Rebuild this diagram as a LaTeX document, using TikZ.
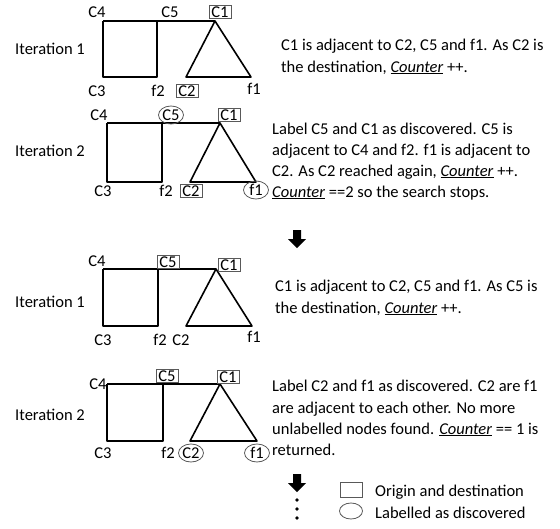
\documentclass[tikz,border=0pt]{standalone}
\usepackage{fontspec}
\setmainfont{Carlito}
\usetikzlibrary{shapes.geometric}
\begin{document}
\begin{tikzpicture}[x=1pt,y=-1pt, font=\fontsize{16.5}{21.5}\selectfont,
 edge/.style={line width=1.6pt, line join=round},
 lab/.style={inner sep=1pt},
 boxlab/.style={draw=black!65, line width=0.8pt, inner xsep=2.5pt, inner ysep=1pt},
 ovallab/.style={ellipse, draw=black!65, line width=0.8pt, inner sep=0pt, minimum width=25pt, minimum height=18pt},
 txt/.style={anchor=base west, inner sep=0},
 dotn/.style={circle, fill=black, inner sep=0, minimum size=3.8pt}]
\newcommand\Ctr{\underline{\textit{Counter}}}
\path[use as bounding box] (0,0) rectangle (560,528);

% ---------- Panel 1 ----------
\coordinate (a4) at (103,21); \coordinate (a5) at (157,21);
\coordinate (a3) at (103,77); \coordinate (af2) at (157,77);
\coordinate (a1) at (215,21); \coordinate (a2) at (186,77); \coordinate (af1) at (251,77);
\draw[edge] (a4) -- (a5) -- (a1) (a4) -- (a3) -- (af2) -- (a5);
\draw[edge] (a1) -- (a2) -- (af1) -- cycle;
\node[lab] (la4) at (97,12) {C4};
\node[lab] (la5) at (170,12) {C5};
\node[boxlab] (la1) at (220,12) {C1};
\node[lab] (la3) at (97,91) {C3};
\node[lab] (laf2) at (158,91) {f2};
\node[boxlab] (la2) at (187,91) {C2};
\node[lab] (laf1) at (254,89) {f1};
\node[lab] (it1) at (50,49) {Iteration 1};
\node[txt] (t1a) at (281,50) {C1 is adjacent to C2, C5 and f1. As C2 is};
\node[txt] (t1b) at (281,72) {the destination, \Ctr{} ++.};

% ---------- Panel 2 ----------
\coordinate (b4) at (107,123); \coordinate (b5) at (162,123);
\coordinate (b3) at (107,182); \coordinate (bf2) at (162,182);
\coordinate (b1) at (220,123); \coordinate (b2) at (190,182); \coordinate (bf1) at (256,182);
\draw[edge] (b4) -- (b5) -- (b1) (b4) -- (b3) -- (bf2) -- (b5);
\draw[edge] (b1) -- (b2) -- (bf1) -- cycle;
\node[lab] (lb4) at (99,115) {C4};
\node[ovallab] (lb5) at (171,115) {C5};
\node[boxlab] (lb1) at (229,115) {C1};
\node[lab] (lb3) at (103,191) {C3};
\node[lab] (lbf2) at (166,191) {f2};
\node[boxlab] (lb2) at (191,191) {C2};
\node[ovallab] (lbf1) at (256,190) {f1};
\node[lab] (it2) at (50,151) {Iteration 2};
\node[txt] (t2a) at (272,134) {Label C5 and C1 as discovered. C5 is};
\node[txt] (t2b) at (272,155) {adjacent to C4 and f2. f1 is adjacent to};
\node[txt] (t2c) at (272,176) {C2. As C2 reached again, \Ctr{} ++.};
\node[txt] (t2d) at (272,197) {\Ctr{} ==2 so the search stops.};

% ---------- arrow ----------
\coordinate (arrA) at (297,230);
\fill (arrA) ++(-4,0) -- ++(8,0) -- ++(0,9) -- ++(5,0) -- ++(-9,9) -- ++(-9,-9) -- ++(5,0) -- cycle;

% ---------- Panel 3 ----------
\coordinate (c4) at (103,269); \coordinate (c5) at (158,269);
\coordinate (c3) at (103,326); \coordinate (cf2) at (158,326);
\coordinate (c1) at (216,269); \coordinate (c2) at (186,326); \coordinate (cf1) at (252,326);
\draw[edge] (c4) -- (c5) -- (c1) (c4) -- (c3) -- (cf2) -- (c5);
\draw[edge] (c1) -- (c2) -- (cf1) -- cycle;
\node[lab] (lc4) at (97,261) {C4};
\node[boxlab] (lc5) at (168,262) {C5};
\node[boxlab] (lc1) at (229,265) {C1};
\node[lab] (lc3) at (103,340) {C3};
\node[lab] (lcf2) at (160,340) {f2};
\node[lab] (lc2) at (181,340) {C2};
\node[lab] (lcf1) at (254,337) {f1};
\node[lab] (it3) at (50,302) {Iteration 1};
\node[txt] (t3a) at (275,291) {C1 is adjacent to C2, C5 and f1. As C5 is};
\node[txt] (t3b) at (275,313) {the destination, \Ctr{} ++.};

% ---------- Panel 4 ----------
\coordinate (d4) at (107,384); \coordinate (d5) at (163,384);
\coordinate (d3) at (107,441); \coordinate (df2) at (163,441);
\coordinate (d1) at (220,384); \coordinate (d2) at (190,441); \coordinate (df1) at (257,441);
\draw[edge] (d4) -- (d5) -- (d1) (d4) -- (d3) -- (df2) -- (d5);
\draw[edge] (d1) -- (d2) -- (df1) -- cycle;
\node[lab] (ld4) at (98,384) {C4};
\node[boxlab] (ld5) at (167,376) {C5};
\node[boxlab] (ld1) at (228,377) {C1};
\node[lab] (ld3) at (103,453) {C3};
\node[lab] (ldf2) at (168,453) {f2};
\node[ovallab] (ld2) at (191,453) {C2};
\node[ovallab] (ldf1) at (257,453) {f1};
\node[lab] (it4) at (50,415) {Iteration 2};
\node[txt] (t4a) at (272,391) {Label C2 and f1 as discovered. C2 are f1};
\node[txt] (t4b) at (272,413) {are adjacent to each other. No more};
\node[txt] (t4c) at (272,434) {unlabelled nodes found. \Ctr{} == 1 is};
\node[txt] (t4d) at (272,455) {returned.};

% ---------- bottom arrow, dots, legend ----------
\coordinate (arrB) at (297,474);
\fill (arrB) ++(-4,0) -- ++(8,0) -- ++(0,9) -- ++(5,0) -- ++(-9,9) -- ++(-9,-9) -- ++(5,0) -- cycle;
\node[dotn] (dt1) at (297,500) {};
\node[dotn] (dt2) at (297,509) {};
\node[dotn] (dt3) at (297,518) {};
\node[draw=black!65, line width=0.8pt, minimum width=22pt, minimum height=15pt, inner sep=0] (legR) at (351,490) {};
\node[ellipse, draw=black!65, line width=0.8pt, minimum width=23pt, minimum height=16pt, inner sep=0] (legE) at (351,511) {};
\node[txt] (lt1) at (375,496) {Origin and destination};
\node[txt] (lt2) at (375,518) {Labelled as discovered};
\end{tikzpicture}
\end{document}
